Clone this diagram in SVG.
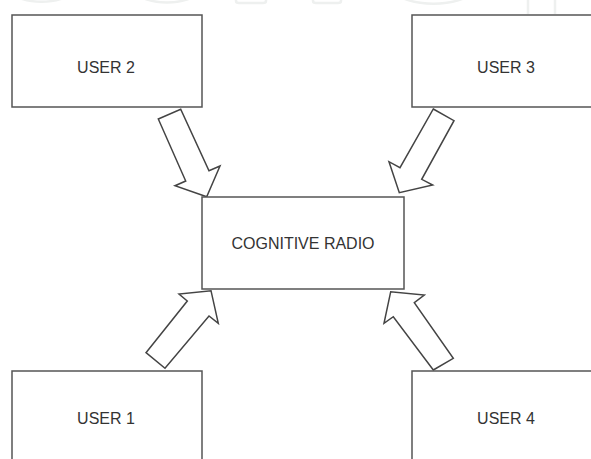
<svg xmlns="http://www.w3.org/2000/svg" width="591" height="459" viewBox="0 0 591 459">
<style>
.box{fill:#fff;stroke:#555;stroke-width:1.5}
.lbl{font-family:"Liberation Sans",Arial,sans-serif;font-size:16px;fill:#333;text-anchor:middle;dominant-baseline:central}
.arr{fill:#fff;stroke:#444;stroke-width:1.5;stroke-linejoin:miter}
.wm{fill:none;stroke:#eef0ef;stroke-width:2.5}
</style>
<rect width="591" height="459" fill="#fff"/>
<g id="watermark">
<path class="wm" d="M11,-8 A32,14 0 0 0 72,-8"/>
<path class="wm" d="M136,-8 A32,14 0 0 0 198,-8"/>
<path class="wm" d="M236,-2 V1 Q236,3 239,3 H263 Q266,3 266,1 V-2"/>
<path class="wm" d="M313,-2 V1 Q313,3 316,3 H338 Q341,3 341,1 V-2"/>
<path class="wm" d="M396,-8 A38,14 0 0 0 471,-8"/>
<path class="wm" d="M528,0 V14 M555,0 V14"/>
<path class="wm" d="M562,-8 A40,15 0 0 0 620,-8"/>
</g>
<g id="connectors">
<polygon class="arr" points="158.3,119 180.7,109.3 209,170.7 220,166 206.7,196.7 175,185.7 185.7,181"/>
<polygon class="arr" points="433.3,109 454,120.7 421.7,179.3 432.7,185 399.3,192.7 389,161.7 400,167.7"/>
<polygon class="arr" points="146,352.7 187.3,301 179,294 211,290.7 218.3,323.3 209,316 165,368.3"/>
<polygon class="arr" points="433.3,370 453.3,358.3 414.3,302.7 424.3,295 390.7,291.7 384,323.3 393.3,316.7"/>
</g>
<g id="user2">
<rect class="box" x="12" y="15" width="190" height="92"/>
<text class="lbl" x="106" y="67">USER 2</text>
</g>
<g id="user3">
<rect class="box" x="412" y="15" width="190" height="92"/>
<text class="lbl" x="506" y="67">USER 3</text>
</g>
<g id="cognitive-radio">
<rect class="box" x="202" y="197" width="202" height="92"/>
<text class="lbl" x="303" y="243">COGNITIVE RADIO</text>
</g>
<g id="user1">
<rect class="box" x="12" y="371" width="190" height="92"/>
<text class="lbl" x="106" y="418">USER 1</text>
</g>
<g id="user4">
<rect class="box" x="412" y="371" width="190" height="92"/>
<text class="lbl" x="506" y="418">USER 4</text>
</g>
</svg>
